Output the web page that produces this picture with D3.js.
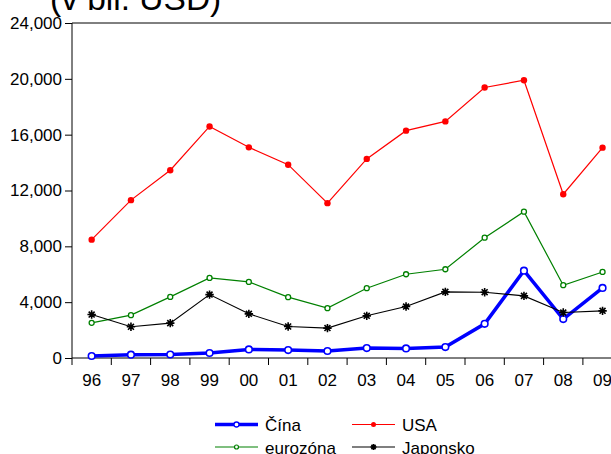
<!DOCTYPE html>
<html><head><meta charset="utf-8">
<script src="https://cdn.jsdelivr.net/npm/d3@7"></script>
<style>body{margin:0;background:#fff}svg{display:block;font-family:"Liberation Sans",Arial,sans-serif}</style>
</head><body>
<script>
const years = ["96","97","98","99","00","01","02","03","04","05","06","07","08","09"];
const cina = [143,236,250,357,614,571,500,714,686,786,2450,6257,2786,5021];
const usa = [8480,11310,13450,16590,15093,13850,11093,14264,16286,16950,19380,19900,11736,15070];
const eurozona = [2521,3071,4379,5736,5450,4357,3571,5000,6000,6357,8620,10480,5214,6164];
const japonsko = [3114,2236,2500,4543,3164,2257,2143,3021,3686,4736,4714,4450,3257,3379];
const yTicks = [0,4000,8000,12000,16000,20000,24000];
const title = "(v bil. USD)";

(function(){
const W=611,H=454;
const svg=d3.select("body").append("svg").attr("width",W).attr("height",H);
const pL=72, pT=23, pB=358;
const step=39.3;
const x=d3.scaleBand().domain(years).range([pL, pL+step*years.length]).paddingInner(0).paddingOuter(0);
const y=d3.scaleLinear().domain([0,24000]).range([pB,pT]);
const cx=d=>x(d)+x.bandwidth()/2;

svg.append("text").attr("x",50).attr("y",10).attr("font-size",33.5).text(title);

// frame
svg.append("line").attr("x1",pL).attr("x2",W).attr("y1",pT).attr("y2",pT).attr("stroke","#000");
svg.append("line").attr("x1",pL).attr("x2",W).attr("y1",pB).attr("y2",pB).attr("stroke","#000");
svg.append("line").attr("x1",pL).attr("x2",pL).attr("y1",pT).attr("y2",pB).attr("stroke","#000");

// y axis
const yAxis=d3.axisLeft(y).tickValues(yTicks).tickSize(7).tickPadding(3).tickFormat(d3.format(","));
const gy=svg.append("g").attr("transform",`translate(${pL},0)`).call(yAxis);
gy.select(".domain").remove();
gy.selectAll("text").attr("font-size",17).attr("font-family","Liberation Sans, Arial, sans-serif").attr("fill","#000");

// x axis ticks at boundaries
const bounds=years.map(d=>x(d)).concat([x(years[years.length-1])+x.bandwidth()]);
svg.selectAll(".xt").data(bounds).enter().append("line").attr("x1",d=>d).attr("x2",d=>d).attr("y1",pB).attr("y2",pB+7).attr("stroke","#000");
svg.selectAll(".xl").data(years).enter().append("text").attr("x",cx).attr("y",386).attr("text-anchor","middle").attr("font-size",17).text(d=>d);

const line=d3.line().x((d,i)=>cx(years[i])).y(d=>y(d));

function star(g,px,py,r){
  const p=d3.path();
  for(let k=0;k<4;k++){const a=k*Math.PI/4;p.moveTo(px-r*Math.cos(a),py-r*Math.sin(a));p.lineTo(px+r*Math.cos(a),py+r*Math.sin(a));}
  g.append("path").attr("d",p.toString()).attr("stroke","#000").attr("stroke-width",1.6);
}

// China
svg.append("path").attr("d",line(cina)).attr("fill","none").attr("stroke","#0000ff").attr("stroke-width",3.5);
svg.selectAll(".cm").data(cina).enter().append("circle").attr("cx",(d,i)=>cx(years[i])).attr("cy",d=>y(d)).attr("r",3.3).attr("fill","#fff").attr("stroke","#0000ff").attr("stroke-width",1.6);
// USA
svg.append("path").attr("d",line(usa)).attr("fill","none").attr("stroke","#ff0000").attr("stroke-width",1.2);
svg.selectAll(".um").data(usa).enter().append("circle").attr("cx",(d,i)=>cx(years[i])).attr("cy",d=>y(d)).attr("r",3.2).attr("fill","#ff0000");
// eurozone
svg.append("path").attr("d",line(eurozona)).attr("fill","none").attr("stroke","#008000").attr("stroke-width",1.2);
svg.selectAll(".em").data(eurozona).enter().append("circle").attr("cx",(d,i)=>cx(years[i])).attr("cy",d=>y(d)).attr("r",2.5).attr("fill","#fff").attr("stroke","#008000").attr("stroke-width",1.3);
// Japan
svg.append("path").attr("d",line(japonsko)).attr("fill","none").attr("stroke","#000").attr("stroke-width",1.1);
const gj=svg.append("g");
japonsko.forEach((d,i)=>star(gj,cx(years[i]),y(d),4.2));

// legend
const lg=svg.append("g");
function legItem(x0,yc,label,type){
  const x1=x0+43, xm=x0+21.5;
  if(type==="cina"){
    lg.append("line").attr("x1",x0).attr("x2",x1).attr("y1",yc).attr("y2",yc).attr("stroke","#0000ff").attr("stroke-width",3.5);
    lg.append("circle").attr("cx",xm).attr("cy",yc).attr("r",2.5).attr("fill","#fff").attr("stroke","#0000ff").attr("stroke-width",1.3);
  } else if(type==="usa"){
    lg.append("line").attr("x1",x0).attr("x2",x1).attr("y1",yc).attr("y2",yc).attr("stroke","#ff0000").attr("stroke-width",1.2);
    lg.append("circle").attr("cx",xm).attr("cy",yc).attr("r",2.5).attr("fill","#ff0000");
  } else if(type==="euro"){
    lg.append("line").attr("x1",x0).attr("x2",x1).attr("y1",yc).attr("y2",yc).attr("stroke","#008000").attr("stroke-width",1.2);
    lg.append("circle").attr("cx",xm).attr("cy",yc).attr("r",2).attr("fill","#fff").attr("stroke","#008000").attr("stroke-width",1.2);
  } else {
    lg.append("line").attr("x1",x0).attr("x2",x1).attr("y1",yc).attr("y2",yc).attr("stroke","#000").attr("stroke-width",1.1);
    star(lg,xm,yc,3);
  }
  lg.append("text").attr("x",x1+7).attr("y",yc+6.5).attr("font-size",17).text(label);
}
legItem(215,424.5,"Čína","cina");
legItem(352,424.5,"USA","usa");
legItem(215,447,"eurozóna","euro");
legItem(352,447,"Japonsko","jap");
})();
</script>
</body></html>
